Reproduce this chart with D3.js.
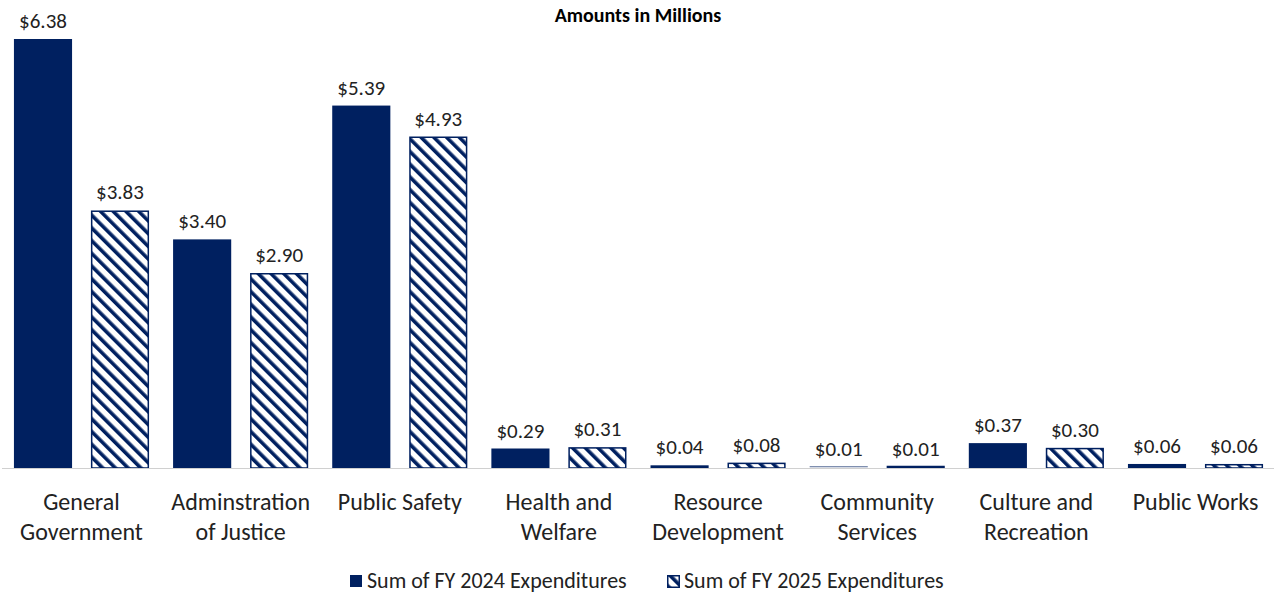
<!DOCTYPE html>
<html>
<head>
<meta charset="utf-8">
<script src="https://cdn.jsdelivr.net/npm/d3@7.9.0/dist/d3.min.js"></script>
<style>
  body { margin: 0; background: #fff; }
  svg { display: block; font-family: Carlito, Lato, sans-serif; }
</style>
</head>
<body>
<svg id="chart" width="1274" height="595"></svg>
<script>
const categories = [
  ['General', 'Government'],
  ['Adminstration', 'of Justice'],
  ['Public Safety'],
  ['Health and', 'Welfare'],
  ['Resource', 'Development'],
  ['Community', 'Services'],
  ['Culture and', 'Recreation'],
  ['Public Works']
];
const seriesNames = ['Sum of FY 2024 Expenditures', 'Sum of FY 2025 Expenditures'];
const fy2024 = [6.38, 3.40, 5.39, 0.29, 0.04, 0.01, 0.37, 0.06];
const fy2025 = [3.83, 2.90, 4.93, 0.31, 0.08, 0.01, 0.30, 0.06];

const navy = '#002060';
const svg = d3.select('#chart');

// hatch pattern for FY 2025
const defs = svg.append('defs');
defs.append('pattern')
  .attr('id', 'hatch')
  .attr('patternUnits', 'userSpaceOnUse')
  .attr('width', 9).attr('height', 9)
  .attr('patternTransform', 'rotate(-45)')
  .call(p => {
    p.append('rect').attr('width', 9).attr('height', 9).attr('fill', '#fff');
    p.append('rect').attr('x', 0).attr('width', 3.6).attr('height', 9).attr('fill', navy);
  });

const baseY = 468;

const x = d3.scaleBand()
  .domain(d3.range(categories.length))
  .range([2, 1275])
  .paddingInner(0.151)
  .paddingOuter(0.075);

const x1 = d3.scaleBand()
  .domain([0, 1])
  .range([0, x.bandwidth()])
  .paddingInner(0.245);

const y = d3.scaleLinear()
  .domain([0, 6.38])
  .range([baseY, 39]);

const data = categories.map((c, i) => ({ i, vals: [fy2024[i], fy2025[i]] }));

// title
svg.append('text')
  .attr('x', 638).attr('y', 22)
  .attr('text-anchor', 'middle')
  .attr('font-weight', 'bold')
  .attr('font-size', 20)
  .attr('fill', '#000')
  .text('Amounts in Millions');

const groups = svg.selectAll('g.grp')
  .data(data)
  .join('g')
  .attr('class', 'grp')
  .attr('transform', d => `translate(${x(d.i)},0)`);

// hatched bars get an inset stroke; tiny values still show a sliver
groups.selectAll('rect')
  .data(d => d.vals.map((v, s) => ({ v, s })))
  .join('rect')
  .attr('x', d => x1(d.s) + (d.s === 1 ? 0.75 : 0))
  .attr('y', d => Math.min(y(d.v) + (d.s === 1 ? 0.75 : 0), baseY - 1.5))
  .attr('width', d => x1.bandwidth() - (d.s === 1 ? 1.5 : 0))
  .attr('height', d => Math.max(d.s === 1 ? 1.5 : 0.6, baseY - y(d.v) - (d.s === 1 ? 0.75 : 0)))
  .attr('fill', d => d.s === 0 ? navy : 'url(#hatch)')
  .attr('stroke', d => d.s === 1 ? navy : 'none')
  .attr('stroke-width', 1.5);

groups.selectAll('text.val')
  .data(d => d.vals.map((v, s) => ({ v, s })))
  .join('text')
  .attr('class', 'val')
  .attr('x', d => x1(d.s) + x1.bandwidth() / 2)
  .attr('y', d => y(d.v) - 11)
  .attr('text-anchor', 'middle')
  .attr('font-size', 21)
  .attr('fill', '#222')
  .text(d => '$' + d.v.toFixed(2));

// baseline axis
const xAxis = d3.axisBottom(x).tickSize(0).tickFormat('');
svg.append('g')
  .attr('transform', `translate(0,${baseY})`)
  .call(xAxis)
  .call(g => g.select('.domain').attr('stroke', '#d0d0d0').attr('stroke-width', 1.2)
    .attr('d', `M2,0.5H1274`));

// category labels
groups.append('text')
  .attr('x', x.bandwidth() / 2)
  .attr('y', 510)
  .attr('text-anchor', 'middle')
  .attr('font-size', 24)
  .attr('fill', '#222')
  .selectAll('tspan')
  .data(d => categories[d.i])
  .join('tspan')
  .attr('x', x.bandwidth() / 2)
  .attr('dy', (d, k) => k === 0 ? 0 : 30)
  .text(d => d);

// legend
const legendPos = [350, 667];
const lg = svg.selectAll('g.leg')
  .data(seriesNames)
  .join('g')
  .attr('class', 'leg')
  .attr('transform', (d, i) => `translate(${legendPos[i]},575)`);
lg.append('rect')
  .attr('x', (d, i) => i ? 0.75 : 0).attr('y', (d, i) => i ? 0.75 : 0)
  .attr('width', (d, i) => i ? 11.5 : 12).attr('height', (d, i) => i ? 11.5 : 12)
  .attr('fill', (d, i) => i ? 'url(#hatch)' : navy)
  .attr('stroke', (d, i) => i ? navy : 'none')
  .attr('stroke-width', 1.5);
lg.append('text')
  .attr('x', 17).attr('y', 13)
  .attr('font-size', 22)
  .attr('fill', '#222')
  .text(d => d);
</script>
</body>
</html>
